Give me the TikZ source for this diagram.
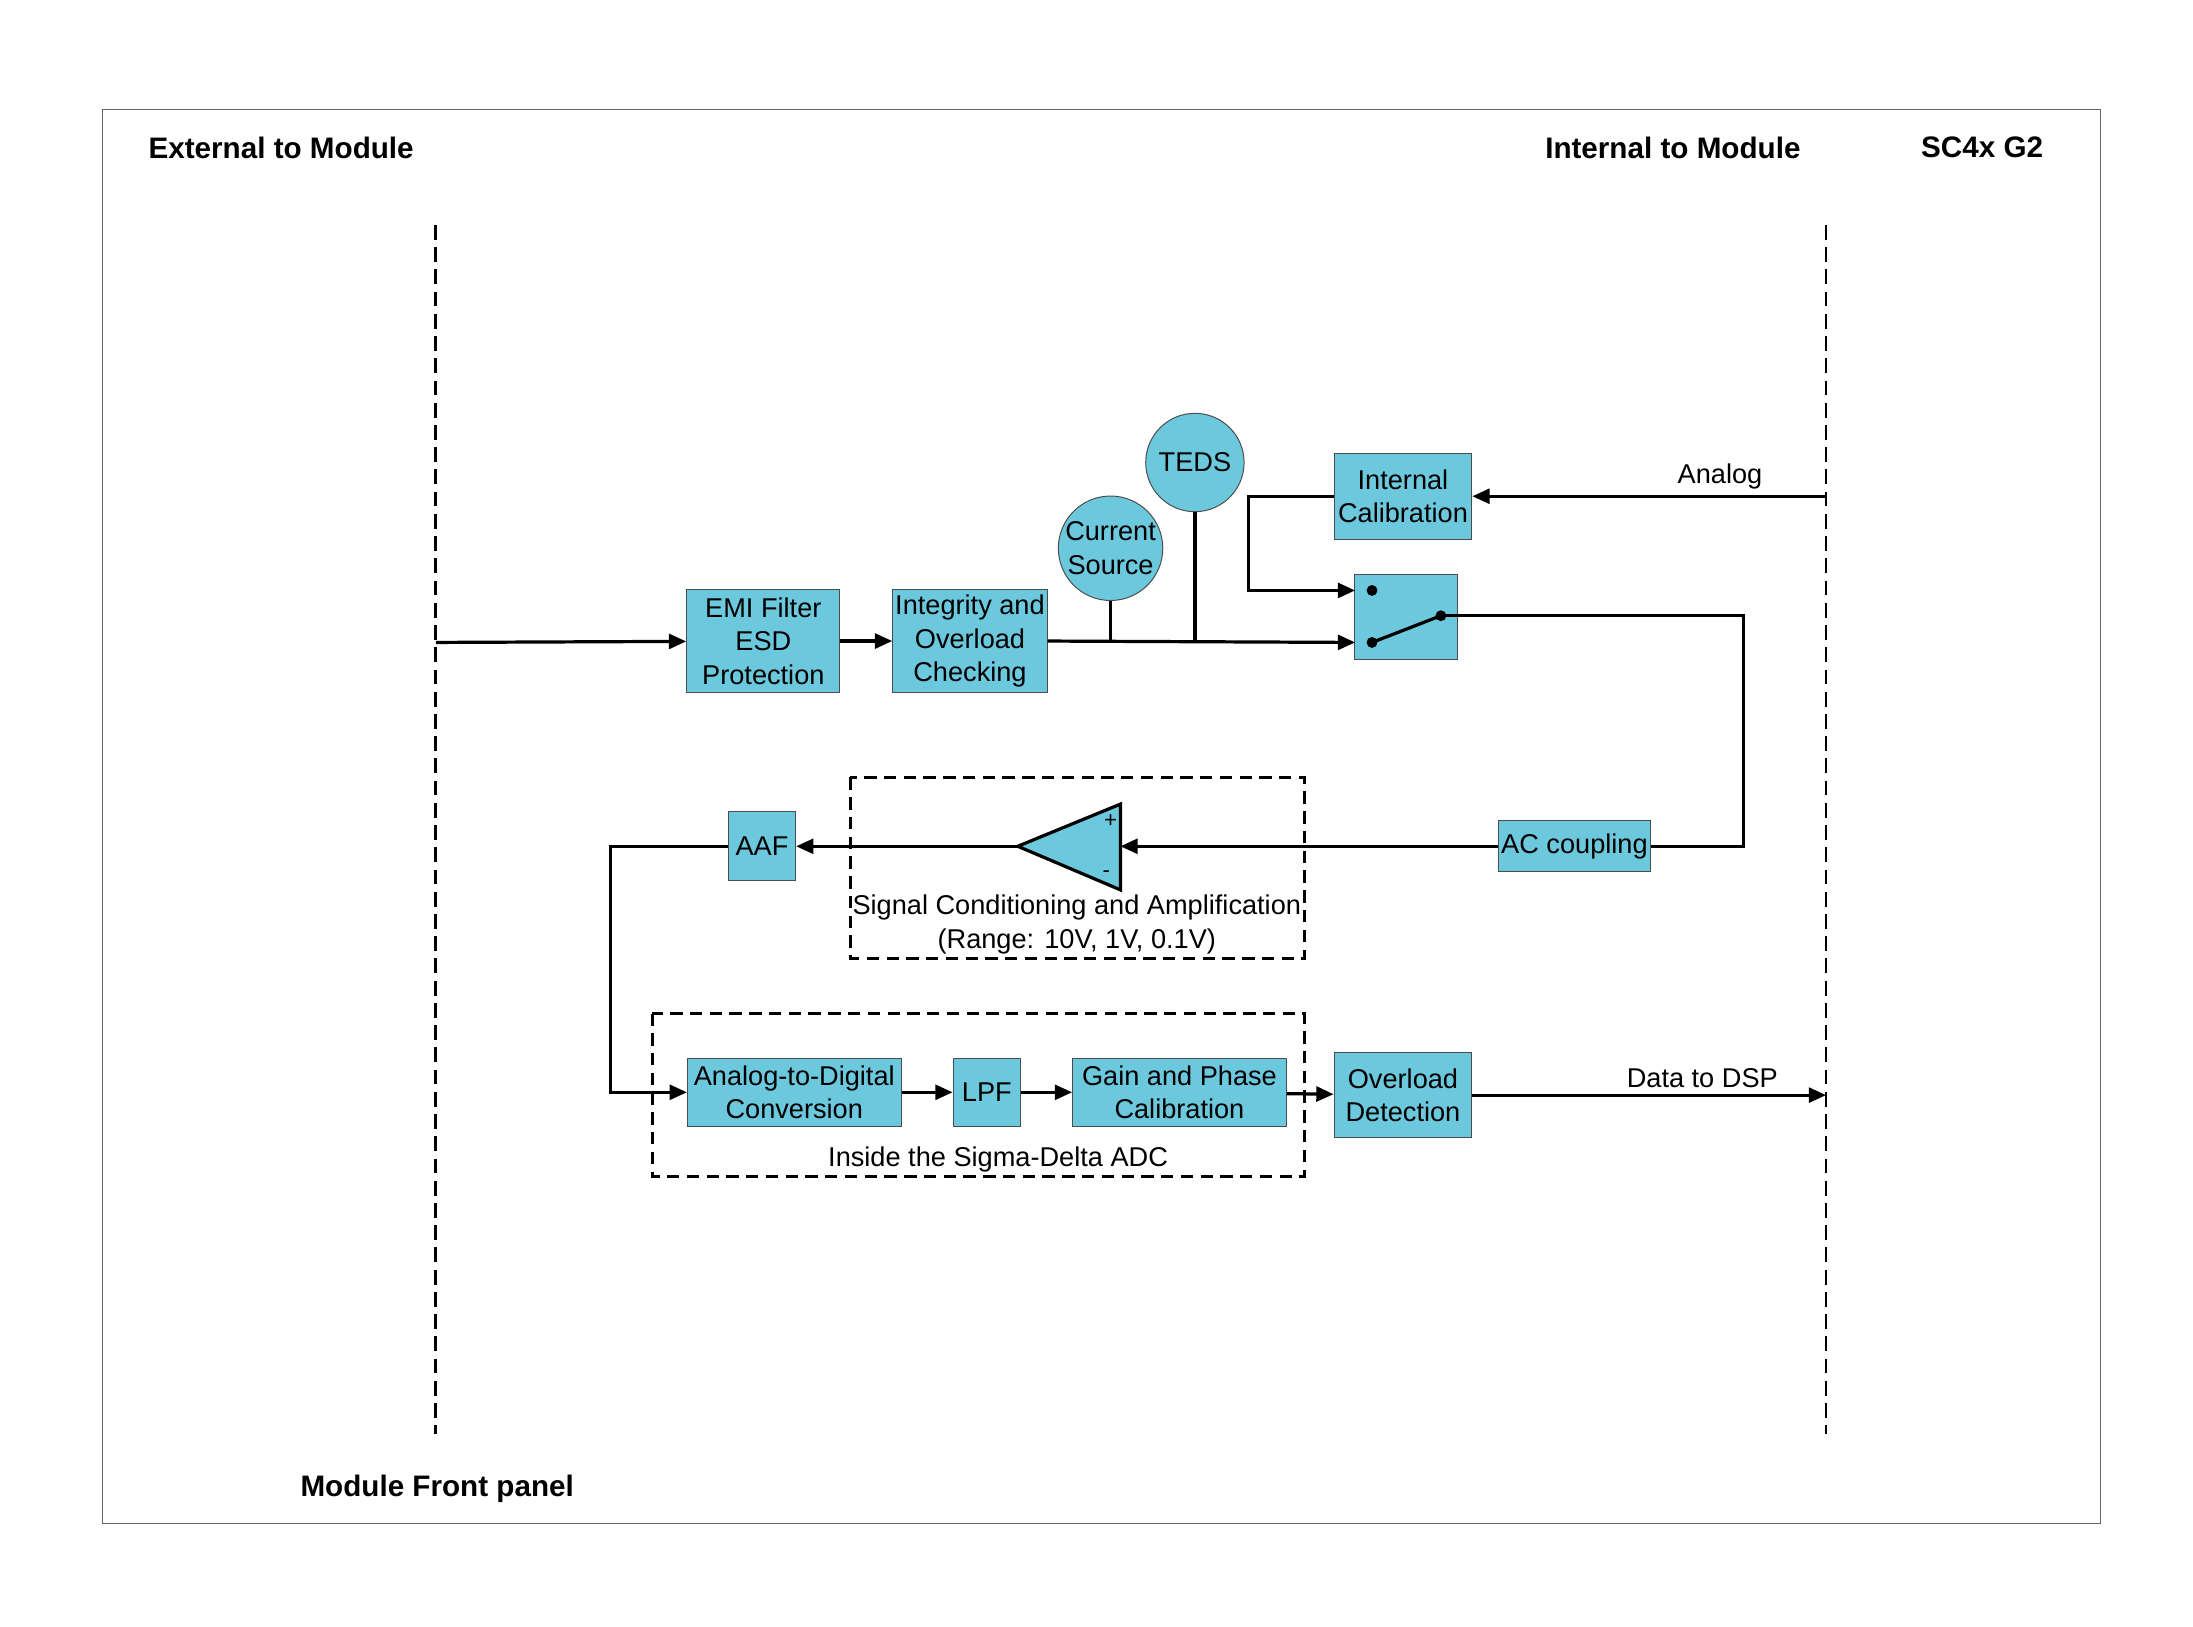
\documentclass[tikz,border=0pt]{standalone}
\usepackage{fontspec}
\setmainfont{Liberation Sans}
\usetikzlibrary{arrows.meta,positioning,shapes.geometric}
\definecolor{blockblue}{HTML}{6CC8DD}
\begin{document}
\begin{tikzpicture}
                    [
                        x=0.02cm, y=-0.02cm,
                        every node/.style={font=\fontsize{11}{13.6}\selectfont},
                        block/.style={rectangle, draw=black!70, fill=blockblue, thin, inner sep=1pt, align=center},
                        roundblock/.style={circle, draw=black!70, fill=blockblue, thin, minimum size=1.4cm, inner sep=0pt, align=center},
                        sig/.style={line width=1.3pt, -{Triangle[length=7pt,width=6pt]}},
                        wire/.style={line width=1.3pt},
                        frontline/.style={line width=1.1pt, dash pattern=on 6pt off 3pt},
                        dashbox/.style={draw, line width=1.1pt, dash pattern=on 5pt off 3pt},
                        title/.style={font=\fontsize{12}{14}\selectfont\bfseries},
                    ]

                    \useasboundingbox (0,0) rectangle (1560,1157);
                    \draw[black!60] (73,78) rectangle (1494,1084);

                    \node[title] (textext) at (200,105) {External to Module};
                    \node[title] (textint) at (1190,105) {Internal to Module};
                    \node[title] (textsc) at (1410,105) {SC4x G2};
                    \node[title] (textpanel) at (311,1059) {Module Front panel};

                    \draw[frontline] (310,160) -- (310,1020);
                    \draw[frontline] (1299,160) -- (1299,1020);

                    \draw[dashbox] (605,553) rectangle (928,682);
                    \draw[dashbox] (464,721) rectangle (928,837);

                    \node[block, minimum width=2.18cm, minimum height=1.46cm] (emi) at (543,456) {EMI Filter\\ESD\\Protection};
                    \node[block, minimum width=2.18cm, minimum height=1.46cm] (integrity) at (690,456) {Integrity and\\Overload\\Checking};
                    \node[roundblock] (current) at (790,390) {Current\\Source};
                    \node[roundblock] (teds) at (850,329) {TEDS};
                    \node[block, minimum width=1.96cm, minimum height=1.22cm] (intcal) at (998,353) {Internal\\Calibration};
                    \node[block, minimum width=1.46cm, minimum height=1.2cm] (switch) at (1000,439) {};
                    \node[block, minimum width=2.06cm, minimum height=0.72cm] (accoupling) at (1120,602) {AC coupling};
                    \node[block, minimum width=0.96cm, minimum height=0.98cm] (aaf) at (542,602) {AAF};
                    \node[block, minimum width=3.04cm, minimum height=0.96cm] (adc) at (565,777) {Analog-to-Digital\\Conversion};
                    \node[block, minimum width=0.96cm, minimum height=0.96cm] (lpf) at (702,777) {LPF};
                    \node[block, minimum width=3.04cm, minimum height=0.96cm] (gain) at (839,777) {Gain and Phase\\Calibration};
                    \node[block, minimum width=1.96cm, minimum height=1.2cm] (overload) at (998,779) {Overload\\Detection};

                    % amplifier
                    \draw[fill=blockblue, line width=1.3pt] (797,572) -- (797,633) -- (724,602) -- cycle;
                    \coordinate (amptip) at (724,602);
                    \coordinate (ampin) at (797,602);
                    \node[font=\fontsize{9}{10}\selectfont] (plus) at (790,584) {+};
                    \node[font=\fontsize{9}{10}\selectfont] (minus) at (787,622) {-};
                    \node (textsignal) at (766,658) {\begin{tabular}{@{}c@{}}Signal Conditioning and Amplification\\(Range: 10V, 1V, 0.1V)\end{tabular}};
                    \node (textadc) at (710,825) {Inside the Sigma-Delta ADC};

                    % switch contacts
                    \coordinate (swa) at (976,420);
                    \coordinate (swb) at (976,457);
                    \coordinate (swc) at (1025,438);
                    \fill (swa) circle (2.2pt) (swb) circle (2.2pt) (swc) circle (2.2pt);
                    \draw[wire] (swb) -- (swc);

                    \coordinate (frontin) at (310,457);
                    \coordinate (analogin) at (1299,353);
                    \coordinate (dspout) at (1299,779);

                    \draw[sig] (frontin) -- (emi);
                    \draw[sig] (emi) -- (integrity);
                    \draw[sig] (integrity.east) -- (964,457);
                    \draw[wire] (current.south) -- (current.south |- swb);
                    \draw[wire] (teds.south) -- (teds.south |- swb);
                    \draw[sig] (analogin) -- (intcal.east) node[pos=0.3, above=-1pt] {Analog};
                    \draw[sig] (intcal.west) -- (888,353) -- (888,420) -- (964,420);
                    \draw[wire] (swc) -- (1240,438) -- (1240,602) -- (accoupling.east);
                    \draw[sig] (accoupling.west) -- (ampin);
                    \draw[sig] (amptip) -- (aaf.east);
                    \draw[sig] (aaf.west) -- (434,602) -- (434,777) -- (adc.west);
                    \draw[sig] (adc) -- (lpf);
                    \draw[sig] (lpf) -- (gain);
                    \draw[sig] (gain) -- (overload);
                    \draw[sig] (overload.east) -- (dspout) node[pos=0.65, above=-1pt] {Data to DSP};

                \end{tikzpicture}
\end{document}
